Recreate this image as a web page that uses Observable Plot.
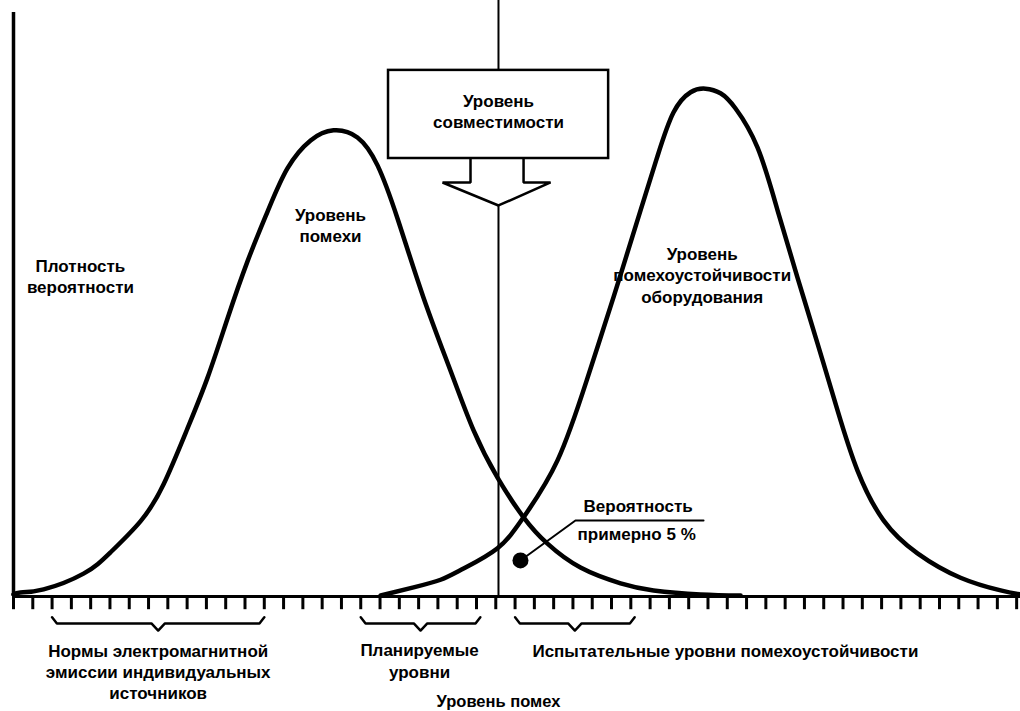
<!DOCTYPE html>
<html>
<head>
<meta charset="utf-8">
<script src="https://cdn.jsdelivr.net/npm/d3@7"></script>
<script src="https://cdn.jsdelivr.net/npm/@observablehq/plot@0.6"></script>
<style>
  html, body { margin: 0; padding: 0; background: #fff; }
  #chart { width: 1020px; height: 711px; }
</style>
</head>
<body>
<div id="chart"></div>
<script>
// Tick positions along the "Уровень помех" axis (arbitrary level units)
const tickLevels = [0,1,2,3,4,5,6,7,8,9,10,11,12,13,14,15,16,17,18,19,20,21,22,23,24,25,26,27,28,29,30,31,32,33,34,35,36,37,38,39,40,41,42,43,44,45,46,47,48,49,50,51,52];

// Disturbance level distribution ("Уровень помехи")
const noiseX = [0,0.36,1.56,3.63,5.03,6.58,7.78,9.02,10.06,11.09,12.13,13.17,14.20,15.40,16.59,17.83,18.87,19.91,21.25,22.65,23.85,25.09,26.44,27.68,29.39,31.47,33.18,35.61,37.69];
const noiseDensity = [0.004,0.008,0.014,0.045,0.087,0.148,0.221,0.331,0.431,0.547,0.660,0.758,0.843,0.898,0.918,0.904,0.849,0.744,0.589,0.445,0.327,0.234,0.156,0.104,0.057,0.026,0.012,0.004,0.002];

// Equipment immunity level distribution
const immunityX = [19.03,20.74,22.14,23.33,25.09,26.44,28.20,29.76,31.10,32.50,33.39,34.21,35.10,35.87,36.65,37.43,38.57,39.61,40.64,41.68,42.72,43.75,45.10,46.86,49.09,51.17,52.20];
const immunityDensity = [0.002,0.018,0.033,0.055,0.095,0.156,0.268,0.431,0.589,0.760,0.868,0.953,0.993,1.000,0.991,0.961,0.884,0.760,0.628,0.498,0.366,0.248,0.150,0.085,0.037,0.012,0.004];

// Compatibility level and overlap point
const compatibilityLevel = 25.14;
const overlapPoint = {x: 26.28, y: 0.071};

// Ranges marked by braces under the axis
const braceRanges = [[2, 13], [18, 24.2], [26, 32.2]];

const noiseCurve = noiseX.map((x, i) => ({x, y: noiseDensity[i]}));
const immunityCurve = immunityX.map((x, i) => ({x, y: immunityDensity[i]}));

const braces = braceRanges.flatMap(([a, b], k) => {
  const m = (a + b) / 2;
  return [
    {k, x: a, y: -0.041}, {k, x: a + 0.25, y: -0.053}, {k, x: m - 0.35, y: -0.053},
    {k, x: m, y: -0.067}, {k, x: m + 0.35, y: -0.053}, {k, x: b - 0.25, y: -0.053},
    {k, x: b, y: -0.041}
  ];
});

const c = compatibilityLevel;
const arrow = [
  {x: c - 1.45, y: 0.8625}, {x: c - 1.45, y: 0.8153}, {x: c - 2.9, y: 0.8153},
  {x: c, y: 0.770}, {x: c + 2.7, y: 0.8153}, {x: c + 1.3, y: 0.8153}, {x: c + 1.3, y: 0.8625}
];

const font = {fontFamily: "Liberation Sans, Arial, sans-serif", fontSize: 17, fontWeight: "bold", fill: "black", lineHeight: 1.25};

const chart = Plot.plot({
  width: 1020,
  height: 711,
  marginLeft: 13,
  marginRight: 0,
  marginTop: 12,
  marginBottom: 115,
  style: {background: "white", overflow: "visible"},
  x: {domain: [0, 52.2], axis: null},
  y: {domain: [0, 1.15], axis: null},
  marks: [
    // axes
    Plot.ruleX([0], {y1: 0, y2: 1.15, stroke: "black", strokeWidth: 3.5}),
    Plot.ruleY([0], {x1: 0, x2: 52.2, stroke: "black", strokeWidth: 3}),
    Plot.ruleX(tickLevels, {x: d => d, y1: 0, y2: -0.026, stroke: "black", strokeWidth: 3}),
    // compatibility level line
    Plot.ruleX([c], {y1: 0, y2: 0.770, stroke: "black", strokeWidth: 2}),
    Plot.ruleX([c], {y1: 1.036, y2: 1.18, stroke: "black", strokeWidth: 2}),
    // curves
    Plot.line(noiseCurve, {x: "x", y: "y", curve: "natural", stroke: "black", strokeWidth: 4.5}),
    Plot.line(immunityCurve, {x: "x", y: "y", curve: "natural", stroke: "black", strokeWidth: 4.5}),
    // box + arrow
    Plot.rect([0], {x1: 19.44, x2: 30.85, y1: 0.8625, y2: 1.036, fill: "white", stroke: "black", strokeWidth: 2.5}),
    Plot.line(arrow, {x: "x", y: "y", stroke: "black", strokeWidth: 2.5, strokeLinejoin: "miter"}),
    Plot.text(["Уровень\nсовместимости"], {x: c, y: 0.957, ...font}),
    // overlap dot + leader
    Plot.line([{x: overlapPoint.x, y: overlapPoint.y}, {x: 29.13, y: 0.1497}, {x: 35.77, y: 0.1497}], {x: "x", y: "y", stroke: "black", strokeWidth: 2}),
    Plot.dot([overlapPoint], {x: "x", y: "y", r: 8, fill: "black"}),
    Plot.text(["Вероятность"], {x: 29.55, y: 0.179, textAnchor: "start", ...font}),
    Plot.text(["примерно 5 %"], {x: 29.24, y: 0.124, textAnchor: "start", ...font}),
    // labels
    Plot.text(["Плотность\nвероятности"], {x: 3.47, y: 0.632, ...font}),
    Plot.text(["Уровень\nпомехи"], {x: 16.43, y: 0.732, ...font}),
    Plot.text(["Уровень\nпомехоустойчивости\nоборудования"], {x: 35.7, y: 0.634, ...font}),
    // braces and range labels
    Plot.line(braces, {x: "x", y: "y", z: "k", stroke: "black", strokeWidth: 2.5}),
    Plot.text(["Нормы электромагнитной\nэмиссии индивидуальных\nисточников"], {x: 7.5, y: -0.147, ...font, lineHeight: 1.25}),
    Plot.text(["Планируемые\nуровни"], {x: 21.05, y: -0.125, ...font, lineHeight: 1.3}),
    Plot.text(["Испытательные уровни помехоустойчивости"], {x: 26.9, y: -0.106, textAnchor: "start", ...font}),
    Plot.text(["Уровень помех"], {x: 25.14, y: -0.2048, ...font, fontSize: 16.5})
  ]
});

document.getElementById("chart").appendChild(chart);
</script>
</body>
</html>
